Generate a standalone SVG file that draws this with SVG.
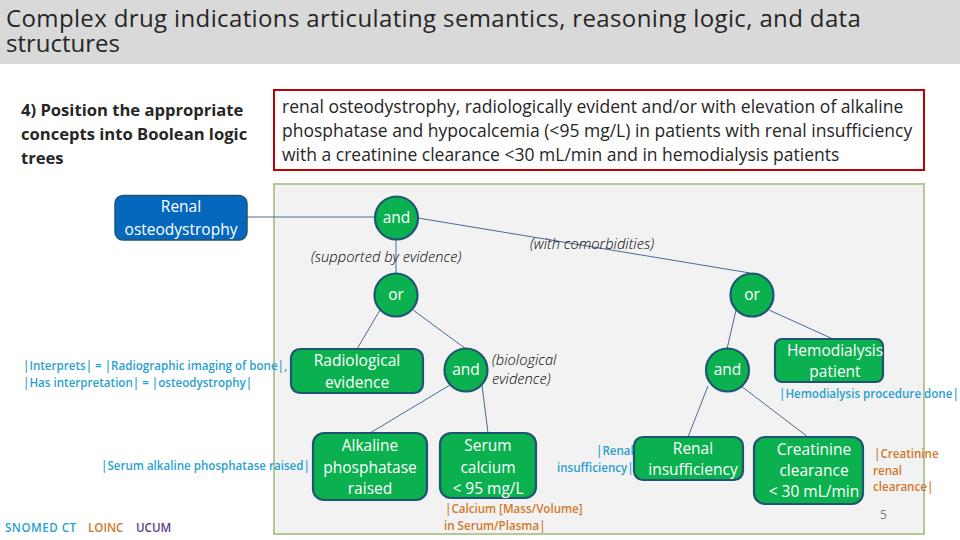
<svg xmlns="http://www.w3.org/2000/svg" width="960" height="540" viewBox="0 0 960 540">
<style>
text{font-family:"Open Sans","Liberation Sans",sans-serif}
.n{fill:#0bb04f;stroke:#1f5573;stroke-width:2.2}
.t{fill:#fff;font-size:15.5px;text-anchor:middle}
.l{fill:none;stroke:#4a6a94;stroke-width:1}
.i{fill:#000;font-size:14.7px;font-style:italic;font-weight:300}
.s,.o,.u{font-size:11.6px;font-weight:600}
.s{fill:#2a9fd0}.o{fill:#d0792b}.u{fill:#5b3a8c}
</style>
<rect width="960" height="540" fill="#fff"/>
<rect id="titlebar" x="0" y="0" width="960" height="64" fill="#d9d9d9"/>
<text font-size="24" letter-spacing="0.37" fill="#262626"><tspan x="6" y="27">Complex drug indications articulating semantics, reasoning logic, and data</tspan><tspan x="6" y="52" letter-spacing="0">structures</tspan></text>
<g id="step" font-size="16.6" font-weight="700" fill="#262626">
<text x="21" y="116">4) Position the appropriate</text>
<text x="21" y="140">concepts into Boolean logic</text>
<text x="21" y="164">trees</text>
</g>
<g id="indication">
<rect x="274" y="90" width="650" height="80" fill="#fff" stroke="#c00000" stroke-width="2"/>
<g font-size="17.5" fill="#262626">
<text x="282" y="113">renal osteodystrophy, radiologically evident and/or with elevation of alkaline</text>
<text x="282" y="137">phosphatase and hypocalcemia (&lt;95 mg/L) in patients with renal insufficiency</text>
<text x="282" y="161">with a creatinine clearance &lt;30 mL/min and in hemodialysis patients</text>
</g>
</g>
<rect id="panel" x="274" y="184" width="650" height="350" fill="#f2f2f2" stroke="#b3c99a" stroke-width="2"/>
<g id="connectors" class="l">
<path class="l" d="M247 217H374"/>
<path class="l" d="M396 240V273"/>
<path class="l" d="M418 218L750 273"/>
<path class="l" d="M380 310L357 349"/>
<path class="l" d="M413 310L466 349"/>
<path class="l" d="M450 385L370 433"/>
<path class="l" d="M482 385L488 433"/>
<path class="l" d="M736 310L727 349"/>
<path class="l" d="M769 310L833 339"/>
<path class="l" d="M708 386L688 437"/>
<path class="l" d="M741 386L808 437"/>
</g>
<g id="node-renal-osteodystrophy">
<rect x="115" y="195.500" width="132" height="44.500" rx="8" fill="#0568bd" stroke="#1f5573" stroke-width="1.500"/>
<text class="t" x="181" y="212">Renal</text><text class="t" x="181" y="235">osteodystrophy</text>
</g>
<g id="node-and-root"><circle class="n" cx="396.500" cy="218" r="21.500"/><text class="t" x="396.500" y="223">and</text></g>
<g id="node-or-left"><circle class="n" cx="396" cy="295" r="21.500"/><text class="t" x="396" y="300">or</text></g>
<g id="node-or-right"><circle class="n" cx="752" cy="295" r="21.500"/><text class="t" x="752" y="300">or</text></g>
<g id="node-and-bio"><circle class="n" cx="466" cy="370" r="21.500"/><text class="t" x="466" y="375">and</text></g>
<g id="node-and-renal"><circle class="n" cx="727.500" cy="370" r="21.500"/><text class="t" x="727.500" y="375">and</text></g>
<g id="node-radiological"><rect class="n" x="291" y="349" width="132" height="44" rx="9"/>
<text class="t" x="357" y="366">Radiological</text><text class="t" x="357" y="388">evidence</text></g>
<g id="node-alkaline"><rect class="n" x="313" y="433" width="114" height="67" rx="11"/>
<text class="t" x="370" y="451">Alkaline</text><text class="t" x="370" y="473">phosphatase</text><text class="t" x="370" y="494">raised</text></g>
<g id="node-serum"><rect class="n" x="440" y="433" width="96" height="65" rx="11"/>
<text class="t" x="488" y="451">Serum</text><text class="t" x="488" y="473">calcium</text><text class="t" x="488" y="494">&lt; 95 mg/L</text></g>
<g id="node-renal-insufficiency"><rect class="n" x="634" y="437" width="109" height="43" rx="9"/>
<text class="t" x="693" y="454">Renal</text><text class="t" x="693" y="475">insufficiency</text></g>
<g id="node-creatinine"><rect class="n" x="754" y="437" width="109" height="67" rx="11"/>
<text class="t" x="814" y="455">Creatinine</text><text class="t" x="814" y="476">clearance</text><text class="t" x="814" y="497">&lt; 30 mL/min</text></g>
<g id="node-hemodialysis"><rect class="n" x="775" y="339" width="108" height="43" rx="7"/>
<text class="t" x="835" y="356">Hemodialysis</text><text class="t" x="835" y="377">patient</text></g>
<g id="branch-labels">
<text class="i" x="311" y="262">(supported by evidence)</text>
<text class="i" x="530" y="249">(with comorbidities)</text>
<text class="i" x="492" y="365">(biological</text>
<text class="i" x="492" y="384">evidence)</text>
</g>
<g id="terminology">
<text class="s" x="23" y="370">|Interprets| = |Radiographic imaging of bone|,</text>
<text class="s" x="23" y="387">|Has interpretation| = |osteodystrophy|</text>
<text class="s" x="101" y="470">|Serum alkaline phosphatase raised|</text>
<text class="s" x="5" y="532" letter-spacing="0.5">SNOMED CT</text>
<text class="o" x="88" y="532">LOINC</text>
<text class="u" x="136" y="532">UCUM</text>
<text class="s" x="596" y="455">|Renal</text>
<text class="s" x="557" y="472">insufficiency|</text>
<text class="o" x="445" y="513">|Calcium [Mass/Volume]</text>
<text class="o" x="444" y="530">in Serum/Plasma|</text>
<text class="s" x="779" y="398">|Hemodialysis procedure done|</text>
<text class="o" x="874" y="458">|Creatinine</text>
<text class="o" x="873" y="475">renal</text>
<text class="o" x="873" y="491">clearance|</text>
</g>
<text id="page" x="880" y="519" font-size="12" fill="#7f7f7f">5</text>
</svg>
